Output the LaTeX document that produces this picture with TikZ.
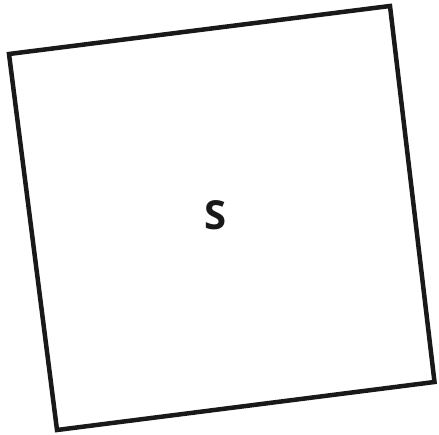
\documentclass[tikz,border=0pt]{standalone}
\usepackage{fontspec}
\setmainfont{Open Sans}
\begin{document}
\begin{tikzpicture}[x=1pt,y=-1pt,
  boxline/.style={draw=black!90,line width=4.5pt,line join=miter},
  lbl/.style={font=\fontsize{40}{46}\selectfont\bfseries,text=black!90}]
\useasboundingbox (0,0) rectangle (439,435);
\coordinate (tl) at (9,54);
\coordinate (tr) at (390,6);
\coordinate (br) at (434.5,382);
\coordinate (bl) at (57,430);
\draw[boxline] (tl) -- (tr) -- (br) -- (bl) -- cycle;
\node[lbl] (s) at (216,215) {S};
\end{tikzpicture}
\end{document}
